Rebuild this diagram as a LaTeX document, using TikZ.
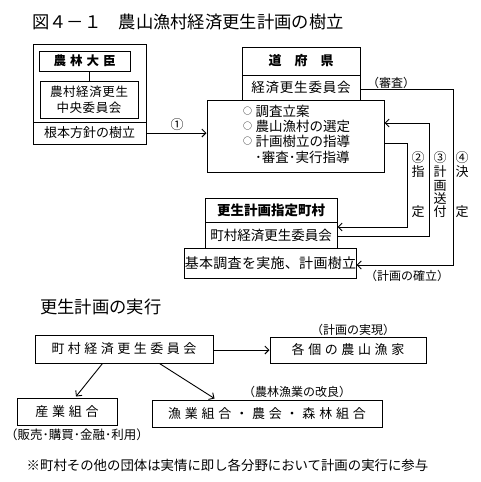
\documentclass[tikz,border=0pt]{standalone}
\usepackage{fontspec}
\setmainfont{Noto Sans CJK JP}
\usetikzlibrary{arrows.meta,calc}
\newcommand\fs[1]{\fontsize{#1}{#1}\selectfont}
\newcommand\circmark{\raisebox{1.8pt}{\fontsize{9}{9}\selectfont ○}\hspace{3.5pt}}
\makeatletter
\newcommand\spr[2]{\def\spr@gap{#1}\spr@loop#2\relax\relax}
\def\spr@loop#1#2{#1\ifx\relax#2\expandafter\@gobbletwo\else\hspace{\spr@gap}\fi\spr@loop#2}
\makeatother
\begin{document}
\begin{tikzpicture}[x=1pt,y=-1pt,
  box/.style={draw,line width=1pt,inner sep=0pt,fill=white},
  lbl/.style={inner sep=0pt},
  arr/.style={line width=0.9pt,-{Straight Barb[length=4pt,width=8pt]}},
  ln/.style={line width=0.9pt}]
\useasboundingbox (0,0) rectangle (480,482);
% title
\node[lbl,anchor=west,font=\fs{17.3}] (title) at (32,22) {図４－１　農山漁村経済更生計画の樹立};
% left block
\node[box,minimum width=113pt,minimum height=78pt] (outer) at (89.5,83) {};
\node[box,minimum width=113pt,minimum height=22pt,font=\fs{13}] (konpon) at (89.5,133) {根本方針の樹立};
\node[box,minimum width=91pt,minimum height=20pt,font=\fs{12.5}\bfseries] (daijin) at (84.5,61) {\spr{4pt}{農林大臣}};
\node[box,minimum width=98pt,minimum height=37pt,font=\fontsize{12.5}{16}\selectfont,align=center] (chuo) at (89,99.5) {\spr{0.6pt}{農村経済更生}\\\spr{0.6pt}{中央委員会}};
\draw[ln] (daijin.south -| chuo.north) -- (chuo.north);
% prefecture
\node[box,minimum width=118pt,minimum height=28pt,font=\fs{13}\bfseries] (ken) at (301,61) {\spr{13pt}{道府県}};
\node[box,minimum width=118pt,minimum height=25pt,font=\fs{13.5}] (keizai) at (301,87.5) {\spr{0.8pt}{経済更生委員会}};
\node[box,minimum width=177pt,minimum height=72pt] (big) at (295.5,136) {};
\node[lbl,anchor=west,align=left,font=\fontsize{13.5}{15.3}\selectfont] (bigtxt) at (243,134) {\circmark 調査立案\\\circmark 農山漁村の選定\\\circmark 計画樹立の指導\\\hspace{12pt}･審査･実行指導};
% arrow 1
\draw[arr] (konpon.east) -- (konpon.east -| big.west);
\node[lbl,font=\fs{13}] (n1) at (177,125) {①};
% village
\node[box,minimum width=132pt,minimum height=24pt,font=\fs{13.5}\bfseries] (choson) at (271,210) {更生計画指定町村};
\node[box,minimum width=132pt,minimum height=26pt,font=\fs{13.5}] (chosonk) at (271,235) {町村経済更生委員会};
\node[box,minimum width=171pt,minimum height=30pt,font=\fs{14}] (kihon) at (270.5,263) {\spr{0.3pt}{基本調査を実施、計画樹立}};
% right connectors
\coordinate (c2a) at (407,143);
\coordinate (c2b) at (407,227);
\coordinate (c3a) at (429,236);
\coordinate (c3b) at (429,123);
\coordinate (c4a) at (453,89);
\coordinate (c4b) at (453,265);
\draw[arr] (big.east |- c2a) -- (c2a) -- (c2b) -- (c2b -| chosonk.east);
\draw[arr] (chosonk.east |- c3a) -- (c3a) -- (c3b) -- (c3b -| big.east);
\draw[arr] (keizai.east |- c4a) -- (c4a) -- (c4b) -- (c4b -| kihon.east);
\node[lbl,font=\fs{12}] (shinsa) at (391,83) {（審査）};
\node[lbl,font=\fs{12}] (kakuritsu) at (407,276) {（計画の確立）};
\begin{scope}[every node/.style={lbl,font=\fs{13}}]
\node (l2a) at (418,158) {②};
\node (l2b) at (418,172) {指};
\node (l2c) at (418,212) {定};
\node (l3a) at (440,158) {③};
\node (l3b) at (440,172) {計};
\node (l3c) at (440,186) {画};
\node (l3d) at (440,199) {送};
\node (l3e) at (440,212) {付};
\node (l4a) at (462,158) {④};
\node (l4b) at (462,172) {決};
\node (l4c) at (462,212) {定};
\end{scope}
% bottom part
\node[lbl,anchor=west,font=\fs{17.3}] (title2) at (40,307) {更生計画の実行};
\node[box,minimum width=178pt,minimum height=28pt,font=\fs{13}] (A) at (124,349) {\spr{3.5pt}{町村経済更生委員会}};
\node[box,minimum width=156pt,minimum height=26pt,font=\fs{13}] (B) at (348,350) {\spr{3.6pt}{各個の農山漁家}};
\node[box,minimum width=100pt,minimum height=27pt,font=\fs{13}] (C) at (67,411.5) {\spr{3.7pt}{産業組合}};
\node[box,minimum width=230pt,minimum height=27pt,font=\fs{13}] (D) at (267,413.5) {\spr{3.8pt}{漁業組合・農会・森林組合}};
\draw[arr] (A.east |- B.west) -- (B.west);
\draw[arr] ($(A.south west)+(68,0)$) -- ($(C.north)+(9,-1)$);
\draw[arr] ($(A.south west)+(125,0)$) -- ($(D.north west)+(63,-1)$);
\node[lbl,font=\fs{12}] (jitsugen) at (353,330) {（計画の実現）};
\node[lbl,font=\fs{12}] (kairyo) at (297,392) {（農林漁業の改良）};
\node[lbl,font=\fs{12.5}] (hanbai) at (77,435) {（販売･購買･金融･利用）};
\node[lbl,font=\fs{13.4}] (note) at (227.5,465) {※町村その他の団体は実情に即し各分野において計画の実行に参与};
\end{tikzpicture}
\end{document}
